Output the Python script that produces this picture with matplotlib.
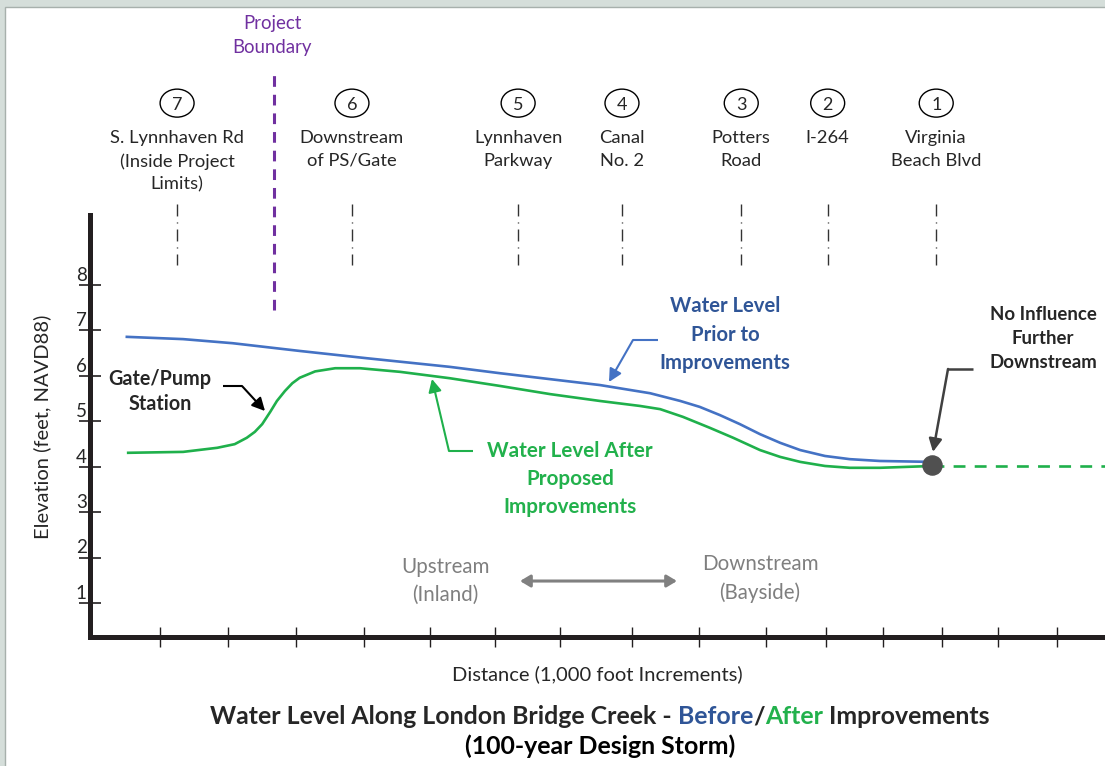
import matplotlib
matplotlib.use("Agg")
import matplotlib.pyplot as plt
from matplotlib.patches import Rectangle, Ellipse

plt.rcParams["font.family"] = ["Lato", "DejaVu Sans"]

# ── DATA (x = distance in 1,000 ft increments from the axis, y = ft NAVD88) ──
prior_x = [0.55, 1.39, 2.13, 3.13, 4.13, 5.37, 6.12, 7.61, 8.36, 8.81, 9.10, 9.40,
           9.70, 10.00, 10.30, 10.60, 10.97, 11.34, 11.79, 12.57]
prior_y = [6.86, 6.81, 6.72, 6.55, 6.39, 6.20, 6.06, 5.80, 5.62, 5.45, 5.32, 5.14,
           4.94, 4.72, 4.53, 4.37, 4.24, 4.17, 4.13, 4.11]

after_x = [0.57, 1.39, 1.90, 2.16, 2.34, 2.46, 2.57, 2.69, 2.79, 2.91, 3.02, 3.13, 3.36,
           3.66, 4.03, 4.63, 5.37, 6.12, 6.87, 7.61, 8.21, 8.51, 8.85, 9.25, 9.60,
           10.00, 10.30, 10.60, 10.97, 11.34, 11.79, 12.57]
after_y = [4.31, 4.33, 4.42, 4.50, 4.64, 4.77, 4.94, 5.21, 5.45, 5.67, 5.84, 5.96, 6.10,
           6.17, 6.17, 6.09, 5.95, 5.78, 5.60, 5.45, 5.34, 5.27, 5.10, 4.86, 4.64,
           4.37, 4.22, 4.11, 4.02, 3.98, 3.98, 4.02]

# no influence past this point
ext_x = [12.57, 15.15]
ext_y = [4.02, 4.02]
end_x, end_y = 12.57, 4.04

station_ids = ["7", "6", "5", "4", "3", "2", "1"]
station_names = ["S. Lynnhaven Rd\n(Inside Project\nLimits)", "Downstream\nof PS/Gate",
                 "Lynnhaven\nParkway", "Canal\nNo. 2", "Potters\nRoad", "I-264",
                 "Virginia\nBeach Blvd"]
station_x = [1.30, 3.91, 6.39, 7.94, 9.72, 11.01, 12.63]
boundary_x = 2.75

elev_ticks = [1, 2, 3, 4, 5, 6, 7, 8]
dist_ticks = [1.05, 2.06, 3.07, 4.09, 5.07, 6.04, 7.01, 8.09, 9.09, 10.09, 10.99,
              11.84, 12.72, 13.55, 14.43]

# ── COLOURS ──
BLUE_LINE, BLUE_TXT = "#4472C4", "#2F5597"
GREEN_LINE, GREEN_TXT = "#1FB04B", "#22B14C"
PURPLE = "#7030A0"
DARK = "#262626"
GRAY = "#7F7F7F"
AXIS = "#231F20"

fig = plt.figure(figsize=(11.05, 7.66), dpi=100, facecolor="#D5DEDA")
fig.patches.append(Rectangle((5 / 1105, -0.01), 1.0, 1 - 7 / 766 + 0.01,
                             transform=fig.transFigure, facecolor="white",
                             edgecolor="#A7B0AC", lw=1, zorder=-5))

ax = fig.add_axes([0, 0, 1, 1])
ax.set_xlim(-1.343, 15.149)
ax.set_ylim(-2.578, 14.268)
ax.patch.set_visible(False)

# axes: thick L-shaped frame
for s in ["top", "right"]:
    ax.spines[s].set_visible(False)
ax.spines["left"].set_position(("data", 0))
ax.spines["left"].set_bounds(0.265, 9.54)
ax.spines["bottom"].set_position(("data", 0.265))
ax.spines["bottom"].set_bounds(0, 15.149)
for s in ["left", "bottom"]:
    ax.spines[s].set_linewidth(3.6)
    ax.spines[s].set_color(AXIS)
    ax.spines[s].set_capstyle("projecting")

ax.set_xticks(dist_ticks, labels=[])
ax.set_yticks(elev_ticks, labels=[])
ax.tick_params(axis="x", direction="inout", length=14, width=1, color=AXIS)
ax.tick_params(axis="y", direction="inout", length=16, width=1.2, color=AXIS)
for v in elev_ticks:
    ax.text(-0.13, v + 0.03, str(v), ha="center", va="bottom", fontsize=13.5, color=DARK)

ax.text(-0.716, 4.88, "Elevation (feet, NAVD88)", rotation=90, ha="center",
        va="center", fontsize=14.5, color=DARK)
ax.text(7.567, -0.555, "Distance (1,000 foot Increments)", ha="center", va="center",
        fontsize=14.5, color=DARK)

# ── water surface profiles ──
ax.plot(prior_x, prior_y, color=BLUE_LINE, lw=1.9, solid_joinstyle="round", zorder=3)
ax.plot(after_x, after_y, color=GREEN_LINE, lw=1.9, solid_joinstyle="round", zorder=3)
ax.plot(ext_x, ext_y, color=GREEN_LINE, lw=1.9, ls=(0, (4.5, 3.5)), zorder=3)
ax.scatter([end_x], [end_y], s=190, color="#505050", zorder=5)

# ── stations along the creek ──
for sid, name, x in zip(station_ids, station_names, station_x):
    ax.add_patch(Ellipse((x, 12.0), 0.507, 0.616, fc="white", ec="black", lw=1))
    ax.text(x, 11.99, sid, ha="center", va="center_baseline", fontsize=13, color=DARK)
    ax.text(x, 11.42, name, ha="center", va="top", fontsize=13.2, color=DARK,
            linespacing=1.55)
    ax.plot([x, x], [9.78, 8.44], color="#333333", lw=1,
            ls=(0, (8.6, 4.3, 0.8, 4.3)))

ax.vlines(boundary_x, 7.45, 12.68, colors=PURPLE, lw=2.2, linestyles=(0, (3.5, 2.6)))
ax.text(2.716, 13.49, "Project\nBoundary", ha="center", va="center", fontsize=13.4,
        color=PURPLE, linespacing=1.55)


def callout(start, corner, tip, color, lw=1.5):
    ax.plot([start[0], corner[0]], [start[1], corner[1]], color=color, lw=lw,
            solid_capstyle="butt")
    ax.annotate("", xy=tip, xytext=corner,
                arrowprops=dict(arrowstyle="-|>,head_length=0.55,head_width=0.28",
                                color=color, lw=lw, shrinkA=0, shrinkB=0,
                                mutation_scale=14))


ax.text(1.045, 5.66, "Gate/Pump\nStation", ha="center", va="center", fontsize=14.2,
        fontweight="bold", color=DARK, linespacing=1.3)
callout((1.985, 5.779), (2.269, 5.779), (2.612, 5.229), "black")

ax.text(9.478, 6.91, "Water Level\nPrior to\nImprovements", ha="center", va="center",
        fontsize=14.6, fontweight="bold", color=BLUE_TXT, linespacing=1.55)
callout((8.478, 6.79), (8.104, 6.79), (7.746, 5.867), BLUE_LINE)

ax.text(7.164, 3.744, "Water Level After\nProposed\nImprovements", ha="center",
        va="center", fontsize=14.9, fontweight="bold", color=GREEN_TXT, linespacing=1.5)
callout((5.716, 4.349), (5.358, 4.349), (5.104, 5.933), GREEN_LINE)

ax.text(14.224, 6.823, "No Influence\nFurther\nDownstream", ha="center", va="center",
        fontsize=13.4, fontweight="bold", color=DARK, linespacing=1.5)
callout((13.179, 6.153), (12.806, 6.153), (12.582, 4.33), "#404040", lw=1.8)

# upstream / downstream direction
ax.annotate("", xy=(8.761, 1.49), xytext=(6.418, 1.49),
            arrowprops=dict(arrowstyle="<|-|>,head_length=0.5,head_width=0.3",
                            color="#808080", lw=2.2, shrinkA=0, shrinkB=0,
                            mutation_scale=12))
ax.text(5.299, 1.49, "Upstream\n(Inland)", ha="center", va="center", fontsize=14.8,
        color=GRAY, linespacing=1.45)
ax.text(10.0, 1.545, "Downstream\n(Bayside)", ha="center", va="center", fontsize=14.8,
        color=GRAY, linespacing=1.45)

# ── two-colour title ──
pieces = [("Water Level Along London Bridge Creek - ", DARK), ("Before", BLUE_TXT),
          ("/", DARK), ("After", GREEN_TXT), (" Improvements", DARK)]
tfont = dict(fontsize=17.9, fontweight="bold")
first = ax.text(0, -1.66, pieces[0][0], color=pieces[0][1], ha="left",
                va="baseline", **tfont)
prev = first
for txt, col in pieces[1:]:
    prev = ax.annotate(txt, xycoords=prev, xy=(1, 0), va="bottom", color=col, **tfont)
fig.canvas.draw()
x0 = first.get_window_extent().x0
x1 = prev.get_window_extent().x1
cx = ax.transData.transform((7.61, 0))[0]
shift = cx - (x0 + x1) / 2
new_left = ax.transData.inverted().transform((x0 + shift, 0))[0]
first.set_x(new_left)

ax.text(7.61, -2.139, "(100-year Design Storm)", ha="center", va="center", **tfont)

fig.savefig("out.png", dpi=100, facecolor=fig.get_facecolor())
